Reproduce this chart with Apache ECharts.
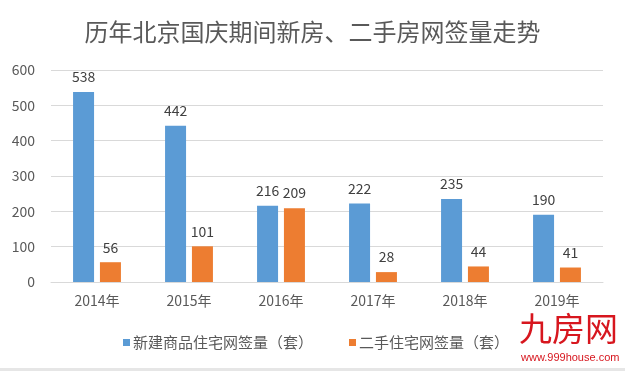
<!DOCTYPE html>
<html><head><meta charset="utf-8">
<script src="https://cdn.jsdelivr.net/npm/echarts@6/dist/echarts.min.js"></script>
<style>html,body{margin:0;padding:0;background:#fff}#c{width:625px;height:371px}</style>
</head><body><div id="c"></div>
<script>
const categories = ['2014年','2015年','2016年','2017年','2018年','2019年'];
const newHomes = [538, 442, 216, 222, 235, 190];
const resale = [56, 101, 209, 28, 44, 41];
const seriesNames = ['新建商品住宅网签量（套）','二手住宅网签量（套）'];
const yTicks = {min: 0, max: 600, interval: 100};

const font = "'Noto Sans CJK SC', 'Noto Sans', sans-serif";
const chart = echarts.init(document.getElementById('c'));
const labelStyle = {show: true, position: 'top', distance: 8, fontSize: 14, color: '#404040', fontFamily: font};
chart.setOption({
  animation: false,
  backgroundColor: '#fff',
  title: {text: '历年北京国庆期间新房、二手房网签量走势', left: 'center', top: 15,
    textStyle: {fontSize: 24, fontWeight: 'normal', color: '#595959', fontFamily: font}},
  legend: {bottom: 16, left: 118, itemWidth: 7, itemHeight: 7, itemGap: 36,
    icon: 'rect', textStyle: {fontSize: 15, color: '#595959', fontFamily: font, padding: [0,0,0,-2]}},
  grid: {left: 51, right: 22, top: 70, bottom: 89, containLabel: false},
  xAxis: {type: 'category', data: categories,
    axisLine: {lineStyle: {color: '#D9D9D9'}}, axisTick: {show: false},
    axisLabel: {fontSize: 14, color: '#595959', margin: 12, fontFamily: font}},
  yAxis: {type: 'value', min: yTicks.min, max: yTicks.max, interval: yTicks.interval,
    axisLine: {show: false}, axisTick: {show: false},
    splitLine: {lineStyle: {color: '#D9D9D9'}},
    axisLabel: {fontSize: 14, color: '#595959', margin: 16, fontFamily: font}},
  series: [
    {name: seriesNames[0], type: 'bar', data: newHomes, barWidth: 21, barGap: '28%',
      itemStyle: {color: '#5B9BD5'}, label: labelStyle},
    {name: seriesNames[1], type: 'bar', data: resale, barWidth: 21,
      itemStyle: {color: '#ED7D31'}, label: labelStyle}
  ],
  graphic: [
    {type: 'text', left: 519, top: 312, style: {text: '九房网', fontSize: 33, fill: '#D7161E', fontFamily: font}},
    {type: 'text', left: 521, top: 352, style: {text: 'www.999house.com', fontSize: 11, fill: '#D7161E', fontFamily: "'Liberation Sans', sans-serif"}},
    {type: 'rect', left: 0, top: 368, shape: {width: 625, height: 3}, style: {fill: '#E6E6E6'}}
  ]
});
</script></body></html>
